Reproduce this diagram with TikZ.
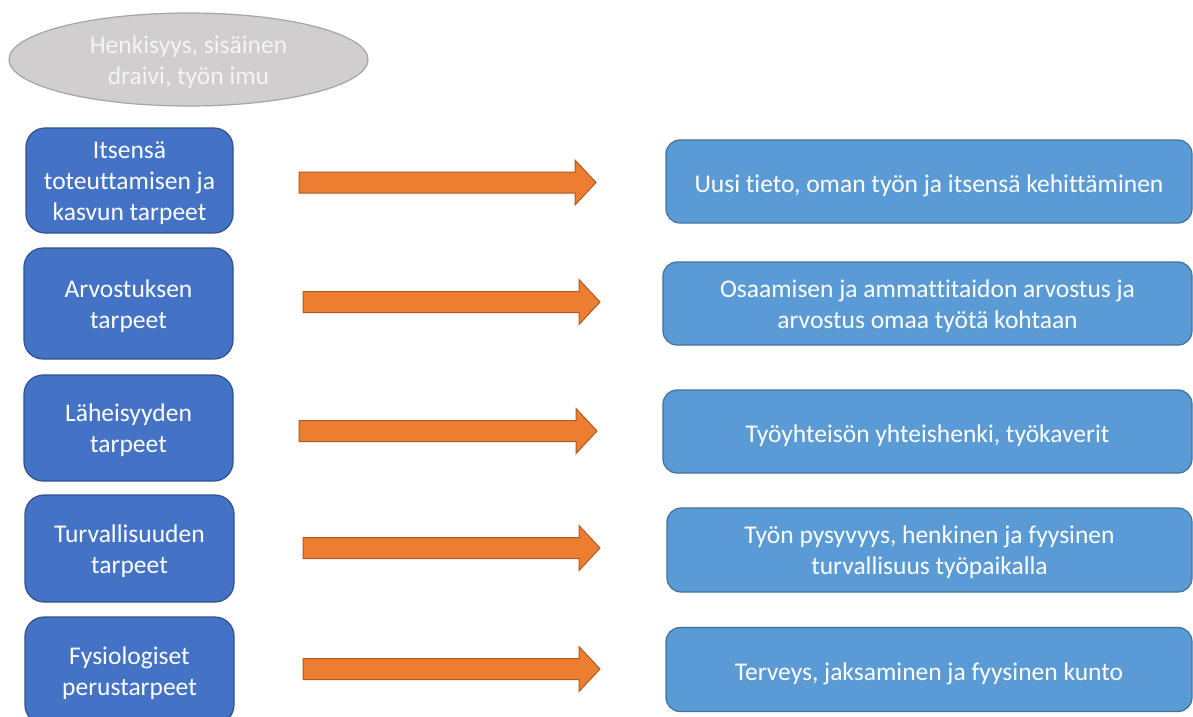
\documentclass[tikz,border=0pt]{standalone}
\usepackage{fontspec}
\setmainfont[Ligatures={NoCommon}]{Carlito}
\usetikzlibrary{shapes.geometric}
\definecolor{ellfill}{HTML}{D0CECE}
\definecolor{elldraw}{HTML}{A5A5A5}
\definecolor{ltext}{HTML}{F4F4F4}
\definecolor{needfill}{HTML}{4472C4}
\definecolor{needdraw}{HTML}{2F528F}
\definecolor{resfill}{HTML}{5B9BD5}
\definecolor{resdraw}{HTML}{41719C}
\definecolor{arrfill}{HTML}{ED7D31}
\definecolor{arrdraw}{HTML}{AE5A21}
\newcommand{\mytop}{\rule{0pt}{24pt}}
\newcommand{\mytopone}{\rule{0pt}{28pt}}
\newcommand{\mybot}{\rule[-6pt]{0pt}{0pt}}
\tikzset{
  txt/.style={font=\fontsize{25.5}{31}\selectfont, text=white, align=center, inner sep=0pt},
  ellbox/.style={txt, ellipse, fill=ellfill, draw=elldraw, line width=1.2pt, text=ltext},
  needbox/.style={txt, rectangle, rounded corners=19pt, fill=needfill, draw=needdraw, line width=1.2pt},
  resbox/.style={txt, rectangle, rounded corners=14pt, fill=resfill, draw=resdraw, line width=1.2pt},
  blockarrow/.style={fill=arrfill, draw=arrdraw, line width=1pt, line join=miter}
}
\begin{document}
\begin{tikzpicture}[x=1pt, y=-1pt]
\useasboundingbox (0,0) rectangle (1193,716);
\fill[white] (0,0) rectangle (1193,716);

\node[ellbox, minimum width=359pt, minimum height=93pt] (top) at (188.5,59.5) {\mytop Henkisyys, sisäinen\\draivi, työn imu\mybot};

\node[needbox, minimum width=207pt, minimum height=105pt] (n1) at (129.5,180.5) {\mytop Itsensä\\toteuttamisen ja\\kasvun tarpeet\mybot};
\node[needbox, minimum width=209pt, minimum height=111pt] (n2) at (128.5,303.5) {\mytop Arvostuksen\\tarpeet\mybot};
\node[needbox, minimum width=209pt, minimum height=106pt] (n3) at (128.5,428) {\mytop Läheisyyden\\tarpeet\mybot};
\node[needbox, minimum width=209pt, minimum height=107pt] (n4) at (129.5,548.5) {\mytop Turvallisuuden\\tarpeet\mybot};
\node[needbox, minimum width=209pt, minimum height=107pt] (n5) at (129.5,670.5) {\mytop Fysiologiset\\perustarpeet\mybot};

\node[resbox, minimum width=526pt, minimum height=83pt] (r1) at (929,181.5) {\mytopone Uusi tieto, oman työn ja itsensä kehittäminen\mybot};
\node[resbox, minimum width=529pt, minimum height=83pt] (r2) at (927.5,303.5) {\mytop Osaamisen ja ammattitaidon arvostus ja\\arvostus omaa työtä kohtaan\mybot};
\node[resbox, minimum width=529pt, minimum height=83pt] (r3) at (927.5,431.5) {\mytopone Työyhteisön yhteishenki, työkaverit\mybot};
\node[resbox, minimum width=525pt, minimum height=84pt] (r4) at (929.5,550) {\mytop Työn pysyvyys, henkinen ja fyysinen\\turvallisuus työpaikalla\mybot};
\node[resbox, minimum width=526pt, minimum height=84pt] (r5) at (929,669.5) {\mytopone Terveys, jaksaminen ja fyysinen kunto\mybot};

\foreach \xs/\xe/\y in {299/596/182.5, 303/600/302, 299/597/431, 303/600/548, 303/600/669}{
  \draw[blockarrow] (\xs,\y-10.5) -- (\xe-21,\y-10.5) -- (\xe-21,\y-22.5) -- (\xe,\y)
     -- (\xe-21,\y+22.5) -- (\xe-21,\y+10.5) -- (\xs,\y+10.5) -- cycle;
}
\end{tikzpicture}
\end{document}
